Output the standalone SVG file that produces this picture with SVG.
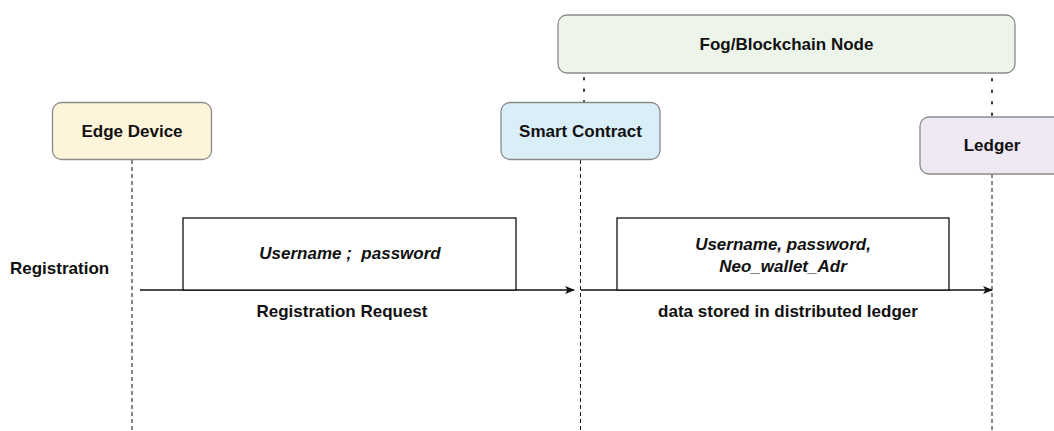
<svg xmlns="http://www.w3.org/2000/svg" width="1054" height="431" viewBox="0 0 1054 431">
<style>
text{font-family:"Liberation Sans",Arial,sans-serif;font-size:17px;font-weight:bold;fill:#111;text-anchor:middle;dominant-baseline:central;white-space:pre}
.it{font-style:italic}
.lbl{text-anchor:start}
.node{stroke:#8a8a8a;stroke-width:1.3}
.life{stroke:#111;stroke-width:1;stroke-dasharray:4 3;fill:none}
.dot{stroke:#333;stroke-width:2;stroke-dasharray:1.5 10;stroke-linecap:round;fill:none}
.msg{stroke:#111;stroke-width:1.3;fill:none}
.box{fill:#fff;stroke:#111;stroke-width:1.3}
</style>
<defs>
<marker id="ah" markerWidth="10" markerHeight="8" refX="9" refY="4" orient="auto" markerUnits="userSpaceOnUse">
<path d="M0,0 L10,4 L0,8 L2.5,4 Z" fill="#111"/>
</marker>
</defs>
<rect width="1054" height="431" fill="#fff"/>
<g id="connectors">
<line class="life" x1="132" y1="160" x2="132" y2="431"/>
<line class="life" x1="580.5" y1="160" x2="580.5" y2="431"/>
<line class="life" x1="992" y1="174" x2="992" y2="431"/>
<line class="dot" x1="584" y1="78" x2="584" y2="102"/>
<line class="dot" x1="992" y1="79" x2="992" y2="117"/>
<line class="msg" x1="140" y1="290" x2="574" y2="290" marker-end="url(#ah)"/>
<line class="msg" x1="581" y1="290" x2="992" y2="290" marker-end="url(#ah)"/>
</g>
<g id="fog"><rect class="node" x="558" y="15" width="457" height="58" rx="9" fill="#edf5ea"/><text x="786.5" y="44">Fog/Blockchain Node</text></g>
<g id="edge"><rect class="node" x="52.5" y="102.5" width="159" height="57" rx="9" fill="#fdf4da"/><text x="132" y="131">Edge Device</text></g>
<g id="smart"><rect class="node" x="501" y="102.5" width="159" height="57" rx="9" fill="#d9eef7"/><text x="580.5" y="131">Smart Contract</text></g>
<g id="ledger"><rect class="node" x="920" y="117" width="146" height="57" rx="9" fill="#efe9f3"/><text x="992" y="145">Ledger</text></g>
<g id="reg"><text class="lbl" x="10" y="268">Registration</text></g>
<g id="msg1"><rect class="box" x="183" y="218" width="333" height="72"/><text class="it" x="350" y="253" xml:space="preserve">Username ;  password</text><text x="342" y="311">Registration Request</text></g>
<g id="msg2"><rect class="box" x="617" y="218" width="332" height="72"/><text class="it" x="783" y="244">Username, password,</text><text class="it" x="783" y="266">Neo_wallet_Adr</text><text x="788" y="311">data stored in distributed ledger</text></g>
</svg>
